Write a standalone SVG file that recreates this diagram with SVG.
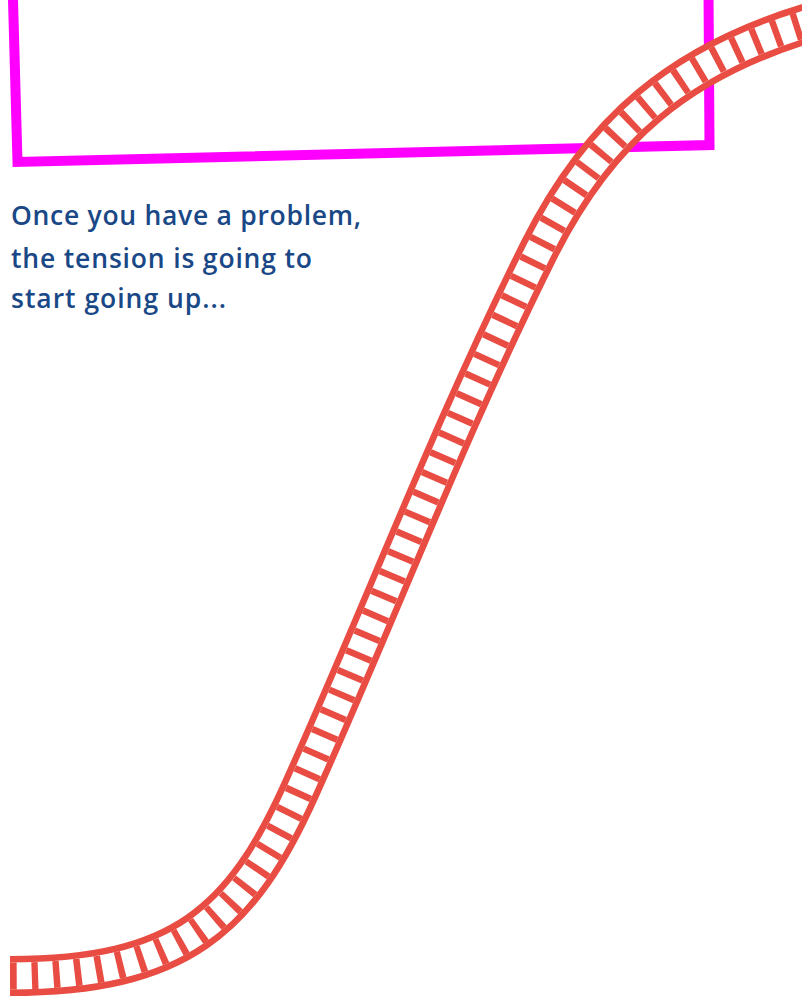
<svg xmlns="http://www.w3.org/2000/svg" width="802" height="996" viewBox="0 0 802 996">
  <defs>
    <style>
      .frame { fill: none; stroke: #FF00FF; stroke-width: 10; stroke-linejoin: miter; }
      .rail { fill: none; stroke: #E84C42; stroke-width: 40; stroke-linecap: butt; }
      .bed { fill: none; stroke: #FFFFFF; stroke-width: 27; stroke-linecap: butt; }
      .rungs { fill: none; stroke: #E84C42; stroke-width: 27; stroke-linecap: butt; stroke-dasharray: 6.5 15; }
      .caption { font-family: "Open Sans", "Noto Sans", "Liberation Sans", sans-serif; font-weight: 600; font-size: 26.5px; fill: #1A4887; }
    </style>
    <path id="trackPath" d="M 10 976 C 180 976, 241.5 920, 300 790 C 381 610, 449 430, 539 250 C 599 130, 680 61, 812 22"/>
  </defs>
  <rect width="802" height="996" fill="#FFFFFF"/>
  <g id="frame">
    <path class="frame" d="M 708.3 -40 L 709.5 145 L 17.5 162 L 11.9 -40"/>
  </g>
  <g id="caption">
    <text class="caption" x="11" y="225" textLength="350">Once you have a problem,</text>
    <text class="caption" x="11" y="268" textLength="301">the tension is going to</text>
    <text class="caption" x="11" y="308" textLength="215">start going up...</text>
  </g>
  <g id="track">
    <use href="#trackPath" class="rail"/>
    <use href="#trackPath" class="bed"/>
    <use href="#trackPath" class="rungs"/>
  </g>
</svg>
